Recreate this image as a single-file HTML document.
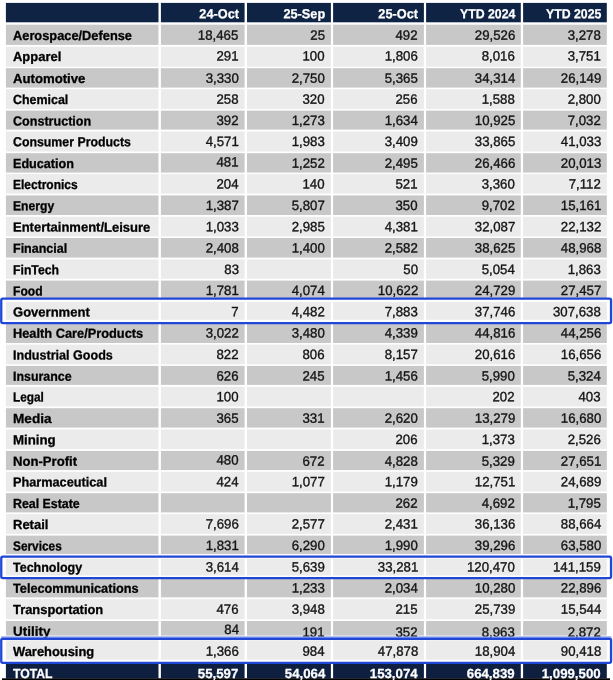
<!DOCTYPE html>
<html><head><meta charset="utf-8"><title>Table</title>
<style>
html,body{margin:0;padding:0;background:#fff;}
html{width:613px;height:680px;overflow:hidden;}
body{width:613px;height:680px;position:relative;overflow:hidden;font-family:"Liberation Sans",sans-serif;font-size:13.2px;color:#141414;}
svg{position:absolute;left:0;top:0;}
.t{position:absolute;white-space:nowrap;display:block;line-height:1;}
.b{font-weight:bold;color:#000;-webkit-text-stroke:0.3px #000;transform-origin:0 50%;}
.n{font-size:13.5px;-webkit-text-stroke:0.35px #141414;transform-origin:100% 50%;}
.hb{font-weight:bold;color:#fff;-webkit-text-stroke:0.25px #fff;transform-origin:100% 50%;}
.w{color:#fff;-webkit-text-stroke:0.25px #fff;}
#clip{position:absolute;left:0;top:0;width:613px;height:680px;overflow:hidden;}
#all{position:absolute;left:0;top:0;width:613px;height:700px;filter:blur(0.45px);}
</style></head><body>
<div id="clip"><div id="all">
<svg width="613" height="690" viewBox="0 0 613 690">
<rect x="5.9" y="2.9" width="600.9" height="19.4" fill="#0f2345"/>
<rect x="5.9" y="24.7" width="600.9" height="20.2" fill="#c8c8c8"/>
<rect x="5.9" y="46.8" width="600.9" height="20" fill="#ebebeb"/>
<rect x="5.9" y="68.2" width="600.9" height="19.4" fill="#c8c8c8"/>
<rect x="5.9" y="89.2" width="600.9" height="19.8" fill="#ebebeb"/>
<rect x="5.9" y="110.6" width="600.9" height="19" fill="#c8c8c8"/>
<rect x="5.9" y="131.5" width="600.9" height="20" fill="#ebebeb"/>
<rect x="5.9" y="153.2" width="600.9" height="19.4" fill="#c8c8c8"/>
<rect x="5.9" y="174.1" width="600.9" height="19.5" fill="#ebebeb"/>
<rect x="5.9" y="195.4" width="600.9" height="19.6" fill="#c8c8c8"/>
<rect x="5.9" y="216.8" width="600.9" height="19.6" fill="#ebebeb"/>
<rect x="5.9" y="238" width="600.9" height="19.6" fill="#c8c8c8"/>
<rect x="5.9" y="259.4" width="600.9" height="19.4" fill="#ebebeb"/>
<rect x="5.9" y="280.6" width="600.9" height="18.4" fill="#c8c8c8"/>
<rect x="5.9" y="302.1" width="600.9" height="17.7" fill="#ebebeb"/>
<rect x="5.9" y="323" width="600.9" height="20" fill="#c8c8c8"/>
<rect x="5.9" y="344.6" width="600.9" height="19.7" fill="#ebebeb"/>
<rect x="5.9" y="365.9" width="600.9" height="19" fill="#c8c8c8"/>
<rect x="5.9" y="386.8" width="600.9" height="19.7" fill="#ebebeb"/>
<rect x="5.9" y="408.2" width="600.9" height="19.4" fill="#c8c8c8"/>
<rect x="5.9" y="429.4" width="600.9" height="19.7" fill="#ebebeb"/>
<rect x="5.9" y="450.9" width="600.9" height="19.2" fill="#c8c8c8"/>
<rect x="5.9" y="471.8" width="600.9" height="19.7" fill="#ebebeb"/>
<rect x="5.9" y="493.2" width="600.9" height="19.2" fill="#c8c8c8"/>
<rect x="5.9" y="514.1" width="600.9" height="19.8" fill="#ebebeb"/>
<rect x="5.9" y="535.6" width="600.9" height="18.5" fill="#c8c8c8"/>
<rect x="5.9" y="558.6" width="600.9" height="16.9" fill="#ebebeb"/>
<rect x="5.9" y="578" width="600.9" height="19.4" fill="#c8c8c8"/>
<rect x="5.9" y="599.2" width="600.9" height="20.1" fill="#ebebeb"/>
<rect x="5.9" y="621" width="600.9" height="14.6" fill="#c8c8c8"/>
<rect x="5.9" y="640.3" width="600.9" height="19.4" fill="#ebebeb"/>
<rect x="5.9" y="663.5" width="600.9" height="15" fill="#0e1f40"/>
<rect x="158.5" y="0" width="2.4" height="678.8" fill="#fff"/>
<rect x="244.6" y="0" width="2.4" height="678.8" fill="#fff"/>
<rect x="330.9" y="0" width="2.2" height="678.8" fill="#fff"/>
<rect x="423.9" y="0" width="2.2" height="678.8" fill="#fff"/>
<rect x="520.8" y="0" width="2.3" height="678.8" fill="#fff"/>
<rect x="2" y="678.3" width="608" height="11.5" fill="#000"/>
</svg>
<div id="txt" style="position:absolute;left:0;top:0;width:613px;height:680px;will-change:transform">
<span class="t hb" style="right:374.3px;top:7px;transform:matrix(0.9670,0.0005,0,1,0,0.18)">24-Oct</span><span class="t hb" style="right:288px;top:7px;transform:matrix(0.9670,0.0005,0,1,0,0.18)">25-Sep</span><span class="t hb" style="right:195px;top:7px;transform:matrix(0.9670,0.0005,0,1,0,0.18)">25-Oct</span><span class="t hb" style="right:98.1px;top:7px;transform:matrix(0.9332,0.0005,0,1,0,0.18)">YTD 2024</span><span class="t hb" style="right:12.1px;top:7px;transform:matrix(0.9332,0.0005,0,1,0,0.18)">YTD 2025</span>
<span class="t b" style="left:13px;top:29px;transform:matrix(0.9719,0.0005,0,1,0,0.03)">Aerospace/Defense</span><span class="t n" style="right:374.3px;top:28px;transform:matrix(0.9800,0.0005,0,1,0,0.77)">18,465</span><span class="t n" style="right:288px;top:28px;transform:matrix(0.9800,0.0005,0,1,0,0.77)">25</span><span class="t n" style="right:195px;top:28px;transform:matrix(0.9800,0.0005,0,1,0,0.77)">492</span><span class="t n" style="right:98.1px;top:28px;transform:matrix(0.9800,0.0005,0,1,0,0.77)">29,526</span><span class="t n" style="right:12.1px;top:28px;transform:matrix(0.9800,0.0005,0,1,0,0.77)">3,278</span>
<span class="t b" style="left:13px;top:49px;transform:matrix(0.9830,0.0005,0,1,0,0.88)">Apparel</span><span class="t n" style="right:374.3px;top:49px;transform:matrix(0.9800,0.0005,0,1,0,0.62)">291</span><span class="t n" style="right:288px;top:49px;transform:matrix(0.9800,0.0005,0,1,0,0.62)">100</span><span class="t n" style="right:195px;top:49px;transform:matrix(0.9800,0.0005,0,1,0,0.62)">1,806</span><span class="t n" style="right:98.1px;top:49px;transform:matrix(0.9800,0.0005,0,1,0,0.62)">8,016</span><span class="t n" style="right:12.1px;top:49px;transform:matrix(0.9800,0.0005,0,1,0,0.62)">3,751</span>
<span class="t b" style="left:13px;top:71px;transform:matrix(0.9986,0.0005,0,1,0,0.98)">Automotive</span><span class="t n" style="right:374.3px;top:71px;transform:matrix(0.9800,0.0005,0,1,0,0.72)">3,330</span><span class="t n" style="right:288px;top:71px;transform:matrix(0.9800,0.0005,0,1,0,0.72)">2,750</span><span class="t n" style="right:195px;top:71px;transform:matrix(0.9800,0.0005,0,1,0,0.72)">5,365</span><span class="t n" style="right:98.1px;top:71px;transform:matrix(0.9800,0.0005,0,1,0,0.72)">34,314</span><span class="t n" style="right:12.1px;top:71px;transform:matrix(0.9800,0.0005,0,1,0,0.72)">26,149</span>
<span class="t b" style="left:13px;top:92px;transform:matrix(0.9421,0.0005,0,1,0,0.98)">Chemical</span><span class="t n" style="right:374.3px;top:92px;transform:matrix(0.9800,0.0005,0,1,0,0.72)">258</span><span class="t n" style="right:288px;top:92px;transform:matrix(0.9800,0.0005,0,1,0,0.72)">320</span><span class="t n" style="right:195px;top:92px;transform:matrix(0.9800,0.0005,0,1,0,0.72)">256</span><span class="t n" style="right:98.1px;top:92px;transform:matrix(0.9800,0.0005,0,1,0,0.72)">1,588</span><span class="t n" style="right:12.1px;top:92px;transform:matrix(0.9800,0.0005,0,1,0,0.72)">2,800</span>
<span class="t b" style="left:13px;top:114px;transform:matrix(0.9525,0.0005,0,1,0,0.38)">Construction</span><span class="t n" style="right:374.3px;top:114px;transform:matrix(0.9800,0.0005,0,1,0,0.12)">392</span><span class="t n" style="right:288px;top:114px;transform:matrix(0.9800,0.0005,0,1,0,0.12)">1,273</span><span class="t n" style="right:195px;top:114px;transform:matrix(0.9800,0.0005,0,1,0,0.12)">1,634</span><span class="t n" style="right:98.1px;top:114px;transform:matrix(0.9800,0.0005,0,1,0,0.12)">10,925</span><span class="t n" style="right:12.1px;top:114px;transform:matrix(0.9800,0.0005,0,1,0,0.12)">7,032</span>
<span class="t b" style="left:13px;top:135px;transform:matrix(0.9352,0.0005,0,1,0,0.28)">Consumer Products</span><span class="t n" style="right:374.3px;top:135px;transform:matrix(0.9800,0.0005,0,1,0,0.02)">4,571</span><span class="t n" style="right:288px;top:135px;transform:matrix(0.9800,0.0005,0,1,0,0.02)">1,983</span><span class="t n" style="right:195px;top:135px;transform:matrix(0.9800,0.0005,0,1,0,0.02)">3,409</span><span class="t n" style="right:98.1px;top:135px;transform:matrix(0.9800,0.0005,0,1,0,0.02)">33,865</span><span class="t n" style="right:12.1px;top:135px;transform:matrix(0.9800,0.0005,0,1,0,0.02)">41,033</span>
<span class="t b" style="left:13px;top:156px;transform:matrix(0.9565,0.0005,0,1,0,0.98)">Education</span><span class="t n" style="right:374.3px;top:155px;transform:matrix(0.9800,0.0005,0,1,0,0.52)">481</span><span class="t n" style="right:288px;top:156px;transform:matrix(0.9800,0.0005,0,1,0,0.72)">1,252</span><span class="t n" style="right:195px;top:156px;transform:matrix(0.9800,0.0005,0,1,0,0.72)">2,495</span><span class="t n" style="right:98.1px;top:156px;transform:matrix(0.9800,0.0005,0,1,0,0.72)">26,466</span><span class="t n" style="right:12.1px;top:156px;transform:matrix(0.9800,0.0005,0,1,0,0.72)">20,013</span>
<span class="t b" style="left:13px;top:177px;transform:matrix(0.9100,0.0005,0,1,0,0.88)">Electronics</span><span class="t n" style="right:374.3px;top:177px;transform:matrix(0.9800,0.0005,0,1,0,0.62)">204</span><span class="t n" style="right:288px;top:177px;transform:matrix(0.9800,0.0005,0,1,0,0.62)">140</span><span class="t n" style="right:195px;top:177px;transform:matrix(0.9800,0.0005,0,1,0,0.62)">521</span><span class="t n" style="right:98.1px;top:177px;transform:matrix(0.9800,0.0005,0,1,0,0.62)">3,360</span><span class="t n" style="right:12.1px;top:177px;transform:matrix(0.9800,0.0005,0,1,0,0.62)">7,112</span>
<span class="t b" style="left:13px;top:199px;transform:matrix(0.9209,0.0005,0,1,0,0.18)">Energy</span><span class="t n" style="right:374.3px;top:198px;transform:matrix(0.9800,0.0005,0,1,0,0.92)">1,387</span><span class="t n" style="right:288px;top:198px;transform:matrix(0.9800,0.0005,0,1,0,0.92)">5,807</span><span class="t n" style="right:195px;top:198px;transform:matrix(0.9800,0.0005,0,1,0,0.92)">350</span><span class="t n" style="right:98.1px;top:198px;transform:matrix(0.9800,0.0005,0,1,0,0.92)">9,702</span><span class="t n" style="right:12.1px;top:198px;transform:matrix(0.9800,0.0005,0,1,0,0.92)">15,161</span>
<span class="t b" style="left:13px;top:220px;transform:matrix(0.9862,0.0005,0,1,0,0.58)">Entertainment/Leisure</span><span class="t n" style="right:374.3px;top:220px;transform:matrix(0.9800,0.0005,0,1,0,0.32)">1,033</span><span class="t n" style="right:288px;top:220px;transform:matrix(0.9800,0.0005,0,1,0,0.32)">2,985</span><span class="t n" style="right:195px;top:220px;transform:matrix(0.9800,0.0005,0,1,0,0.32)">4,381</span><span class="t n" style="right:98.1px;top:220px;transform:matrix(0.9800,0.0005,0,1,0,0.32)">32,087</span><span class="t n" style="right:12.1px;top:220px;transform:matrix(0.9800,0.0005,0,1,0,0.32)">22,132</span>
<span class="t b" style="left:13px;top:241px;transform:matrix(0.9473,0.0005,0,1,0,0.78)">Financial</span><span class="t n" style="right:374.3px;top:241px;transform:matrix(0.9800,0.0005,0,1,0,0.52)">2,408</span><span class="t n" style="right:288px;top:241px;transform:matrix(0.9800,0.0005,0,1,0,0.52)">1,400</span><span class="t n" style="right:195px;top:241px;transform:matrix(0.9800,0.0005,0,1,0,0.52)">2,582</span><span class="t n" style="right:98.1px;top:241px;transform:matrix(0.9800,0.0005,0,1,0,0.52)">38,625</span><span class="t n" style="right:12.1px;top:241px;transform:matrix(0.9800,0.0005,0,1,0,0.52)">48,968</span>
<span class="t b" style="left:13px;top:263px;transform:matrix(0.9292,0.0005,0,1,0,0.18)">FinTech</span><span class="t n" style="right:374.3px;top:262px;transform:matrix(0.9800,0.0005,0,1,0,0.92)">83</span><span class="t n" style="right:195px;top:262px;transform:matrix(0.9800,0.0005,0,1,0,0.92)">50</span><span class="t n" style="right:98.1px;top:262px;transform:matrix(0.9800,0.0005,0,1,0,0.92)">5,054</span><span class="t n" style="right:12.1px;top:262px;transform:matrix(0.9800,0.0005,0,1,0,0.92)">1,863</span>
<span class="t b" style="left:13px;top:284px;transform:matrix(0.9194,0.0005,0,1,0,0.38)">Food</span><span class="t n" style="right:374.3px;top:284px;transform:matrix(0.9800,0.0005,0,1,0,0.12)">1,781</span><span class="t n" style="right:288px;top:284px;transform:matrix(0.9800,0.0005,0,1,0,0.12)">4,074</span><span class="t n" style="right:195px;top:284px;transform:matrix(0.9800,0.0005,0,1,0,0.12)">10,622</span><span class="t n" style="right:98.1px;top:284px;transform:matrix(0.9800,0.0005,0,1,0,0.12)">24,729</span><span class="t n" style="right:12.1px;top:284px;transform:matrix(0.9800,0.0005,0,1,0,0.12)">27,457</span>
<span class="t b" style="left:13px;top:305px;transform:matrix(0.9882,0.0005,0,1,0,0.58)">Government</span><span class="t n" style="right:374.3px;top:305px;transform:matrix(0.9800,0.0005,0,1,0,0.32)">7</span><span class="t n" style="right:288px;top:305px;transform:matrix(0.9800,0.0005,0,1,0,0.32)">4,482</span><span class="t n" style="right:195px;top:305px;transform:matrix(0.9800,0.0005,0,1,0,0.32)">7,883</span><span class="t n" style="right:98.1px;top:305px;transform:matrix(0.9800,0.0005,0,1,0,0.32)">37,746</span><span class="t n" style="right:12.1px;top:305px;transform:matrix(0.9800,0.0005,0,1,0,0.32)">307,638</span>
<span class="t b" style="left:13px;top:326px;transform:matrix(0.9707,0.0005,0,1,0,0.68)">Health Care/Products</span><span class="t n" style="right:374.3px;top:326px;transform:matrix(0.9800,0.0005,0,1,0,0.42)">3,022</span><span class="t n" style="right:288px;top:326px;transform:matrix(0.9800,0.0005,0,1,0,0.42)">3,480</span><span class="t n" style="right:195px;top:326px;transform:matrix(0.9800,0.0005,0,1,0,0.42)">4,339</span><span class="t n" style="right:98.1px;top:326px;transform:matrix(0.9800,0.0005,0,1,0,0.42)">44,816</span><span class="t n" style="right:12.1px;top:326px;transform:matrix(0.9800,0.0005,0,1,0,0.42)">44,256</span>
<span class="t b" style="left:13px;top:348px;transform:matrix(0.9524,0.0005,0,1,0,0.38)">Industrial Goods</span><span class="t n" style="right:374.3px;top:348px;transform:matrix(0.9800,0.0005,0,1,0,0.12)">822</span><span class="t n" style="right:288px;top:348px;transform:matrix(0.9800,0.0005,0,1,0,0.12)">806</span><span class="t n" style="right:195px;top:348px;transform:matrix(0.9800,0.0005,0,1,0,0.12)">8,157</span><span class="t n" style="right:98.1px;top:348px;transform:matrix(0.9800,0.0005,0,1,0,0.12)">20,616</span><span class="t n" style="right:12.1px;top:348px;transform:matrix(0.9800,0.0005,0,1,0,0.12)">16,656</span>
<span class="t b" style="left:13px;top:369px;transform:matrix(0.9393,0.0005,0,1,0,0.68)">Insurance</span><span class="t n" style="right:374.3px;top:369px;transform:matrix(0.9800,0.0005,0,1,0,0.42)">626</span><span class="t n" style="right:288px;top:369px;transform:matrix(0.9800,0.0005,0,1,0,0.42)">245</span><span class="t n" style="right:195px;top:369px;transform:matrix(0.9800,0.0005,0,1,0,0.42)">1,456</span><span class="t n" style="right:98.1px;top:369px;transform:matrix(0.9800,0.0005,0,1,0,0.42)">5,990</span><span class="t n" style="right:12.1px;top:369px;transform:matrix(0.9800,0.0005,0,1,0,0.42)">5,324</span>
<span class="t b" style="left:13px;top:390px;transform:matrix(0.8970,0.0005,0,1,0,0.58)">Legal</span><span class="t n" style="right:374.3px;top:390px;transform:matrix(0.9800,0.0005,0,1,0,0.32)">100</span><span class="t n" style="right:98.1px;top:390px;transform:matrix(0.9800,0.0005,0,1,0,0.32)">202</span><span class="t n" style="right:12.1px;top:390px;transform:matrix(0.9800,0.0005,0,1,0,0.32)">403</span>
<span class="t b" style="left:13px;top:411px;transform:matrix(1.0306,0.0005,0,1,0,0.98)">Media</span><span class="t n" style="right:374.3px;top:411px;transform:matrix(0.9800,0.0005,0,1,0,0.72)">365</span><span class="t n" style="right:288px;top:411px;transform:matrix(0.9800,0.0005,0,1,0,0.72)">331</span><span class="t n" style="right:195px;top:411px;transform:matrix(0.9800,0.0005,0,1,0,0.72)">2,620</span><span class="t n" style="right:98.1px;top:411px;transform:matrix(0.9800,0.0005,0,1,0,0.72)">13,279</span><span class="t n" style="right:12.1px;top:411px;transform:matrix(0.9800,0.0005,0,1,0,0.72)">16,680</span>
<span class="t b" style="left:13px;top:433px;transform:matrix(1.0049,0.0005,0,1,0,0.18)">Mining</span><span class="t n" style="right:195px;top:432px;transform:matrix(0.9800,0.0005,0,1,0,0.92)">206</span><span class="t n" style="right:98.1px;top:432px;transform:matrix(0.9800,0.0005,0,1,0,0.92)">1,373</span><span class="t n" style="right:12.1px;top:432px;transform:matrix(0.9800,0.0005,0,1,0,0.92)">2,526</span>
<span class="t b" style="left:13px;top:454px;transform:matrix(0.9937,0.0005,0,1,0,0.68)">Non-Profit</span><span class="t n" style="right:374.3px;top:453px;transform:matrix(0.9800,0.0005,0,1,0,0.42)">480</span><span class="t n" style="right:288px;top:454px;transform:matrix(0.9800,0.0005,0,1,0,0.82)">672</span><span class="t n" style="right:195px;top:454px;transform:matrix(0.9800,0.0005,0,1,0,0.82)">4,828</span><span class="t n" style="right:98.1px;top:454px;transform:matrix(0.9800,0.0005,0,1,0,0.82)">5,329</span><span class="t n" style="right:12.1px;top:454px;transform:matrix(0.9800,0.0005,0,1,0,0.82)">27,651</span>
<span class="t b" style="left:13px;top:475px;transform:matrix(0.9635,0.0005,0,1,0,0.58)">Pharmaceutical</span><span class="t n" style="right:374.3px;top:475px;transform:matrix(0.9800,0.0005,0,1,0,0.32)">424</span><span class="t n" style="right:288px;top:475px;transform:matrix(0.9800,0.0005,0,1,0,0.32)">1,077</span><span class="t n" style="right:195px;top:475px;transform:matrix(0.9800,0.0005,0,1,0,0.32)">1,179</span><span class="t n" style="right:98.1px;top:475px;transform:matrix(0.9800,0.0005,0,1,0,0.32)">12,751</span><span class="t n" style="right:12.1px;top:475px;transform:matrix(0.9800,0.0005,0,1,0,0.32)">24,689</span>
<span class="t b" style="left:13px;top:496px;transform:matrix(0.9371,0.0005,0,1,0,0.98)">Real Estate</span><span class="t n" style="right:195px;top:496px;transform:matrix(0.9800,0.0005,0,1,0,0.72)">262</span><span class="t n" style="right:98.1px;top:496px;transform:matrix(0.9800,0.0005,0,1,0,0.72)">4,692</span><span class="t n" style="right:12.1px;top:496px;transform:matrix(0.9800,0.0005,0,1,0,0.72)">1,795</span>
<span class="t b" style="left:13px;top:517px;transform:matrix(0.9853,0.0005,0,1,0,0.88)">Retail</span><span class="t n" style="right:374.3px;top:517px;transform:matrix(0.9800,0.0005,0,1,0,0.62)">7,696</span><span class="t n" style="right:288px;top:517px;transform:matrix(0.9800,0.0005,0,1,0,0.62)">2,577</span><span class="t n" style="right:195px;top:517px;transform:matrix(0.9800,0.0005,0,1,0,0.62)">2,431</span><span class="t n" style="right:98.1px;top:517px;transform:matrix(0.9800,0.0005,0,1,0,0.62)">36,136</span><span class="t n" style="right:12.1px;top:517px;transform:matrix(0.9800,0.0005,0,1,0,0.62)">88,664</span>
<span class="t b" style="left:13px;top:539px;transform:matrix(0.8981,0.0005,0,1,0,0.38)">Services</span><span class="t n" style="right:374.3px;top:539px;transform:matrix(0.9800,0.0005,0,1,0,0.12)">1,831</span><span class="t n" style="right:288px;top:539px;transform:matrix(0.9800,0.0005,0,1,0,0.12)">6,290</span><span class="t n" style="right:195px;top:539px;transform:matrix(0.9800,0.0005,0,1,0,0.12)">1,990</span><span class="t n" style="right:98.1px;top:539px;transform:matrix(0.9800,0.0005,0,1,0,0.12)">39,296</span><span class="t n" style="right:12.1px;top:539px;transform:matrix(0.9800,0.0005,0,1,0,0.12)">63,580</span>
<span class="t b" style="left:13px;top:560px;transform:matrix(0.9466,0.0005,0,1,0,0.68)">Technology</span><span class="t n" style="right:374.3px;top:560px;transform:matrix(0.9800,0.0005,0,1,0,0.42)">3,614</span><span class="t n" style="right:288px;top:560px;transform:matrix(0.9800,0.0005,0,1,0,0.42)">5,639</span><span class="t n" style="right:195px;top:560px;transform:matrix(0.9800,0.0005,0,1,0,0.42)">33,281</span><span class="t n" style="right:98.1px;top:560px;transform:matrix(0.9800,0.0005,0,1,0,0.42)">120,470</span><span class="t n" style="right:12.1px;top:560px;transform:matrix(0.9800,0.0005,0,1,0,0.42)">141,159</span>
<span class="t b" style="left:13px;top:581px;transform:matrix(0.9646,0.0005,0,1,0,0.78)">Telecommunications</span><span class="t n" style="right:288px;top:581px;transform:matrix(0.9800,0.0005,0,1,0,0.52)">1,233</span><span class="t n" style="right:195px;top:581px;transform:matrix(0.9800,0.0005,0,1,0,0.52)">2,034</span><span class="t n" style="right:98.1px;top:581px;transform:matrix(0.9800,0.0005,0,1,0,0.52)">10,280</span><span class="t n" style="right:12.1px;top:581px;transform:matrix(0.9800,0.0005,0,1,0,0.52)">22,896</span>
<span class="t b" style="left:13px;top:602px;transform:matrix(0.9772,0.0005,0,1,0,0.98)">Transportation</span><span class="t n" style="right:374.3px;top:602px;transform:matrix(0.9800,0.0005,0,1,0,0.72)">476</span><span class="t n" style="right:288px;top:602px;transform:matrix(0.9800,0.0005,0,1,0,0.72)">3,948</span><span class="t n" style="right:195px;top:602px;transform:matrix(0.9800,0.0005,0,1,0,0.72)">215</span><span class="t n" style="right:98.1px;top:602px;transform:matrix(0.9800,0.0005,0,1,0,0.72)">25,739</span><span class="t n" style="right:12.1px;top:602px;transform:matrix(0.9800,0.0005,0,1,0,0.72)">15,544</span>
<span class="t b" style="left:13px;top:624px;transform:matrix(1.0200,0.0005,0,1,0,0.78)">Utility</span><span class="t n" style="right:374.3px;top:623px;transform:matrix(0.9800,0.0005,0,1,0,0.12)">84</span><span class="t n" style="right:288px;top:625px;transform:matrix(0.9800,0.0005,0,1,0,0.82)">191</span><span class="t n" style="right:195px;top:625px;transform:matrix(0.9800,0.0005,0,1,0,0.82)">352</span><span class="t n" style="right:98.1px;top:625px;transform:matrix(0.9800,0.0005,0,1,0,0.82)">8,963</span><span class="t n" style="right:12.1px;top:625px;transform:matrix(0.9800,0.0005,0,1,0,0.82)">2,872</span>
<span class="t b" style="left:13px;top:644px;transform:matrix(0.9780,0.0005,0,1,0,0.98)">Warehousing</span><span class="t n" style="right:374.3px;top:644px;transform:matrix(0.9800,0.0005,0,1,0,0.72)">1,366</span><span class="t n" style="right:288px;top:644px;transform:matrix(0.9800,0.0005,0,1,0,0.72)">984</span><span class="t n" style="right:195px;top:644px;transform:matrix(0.9800,0.0005,0,1,0,0.72)">47,878</span><span class="t n" style="right:98.1px;top:644px;transform:matrix(0.9800,0.0005,0,1,0,0.72)">18,904</span><span class="t n" style="right:12.1px;top:644px;transform:matrix(0.9800,0.0005,0,1,0,0.72)">90,418</span>
<span class="t b w" style="left:13px;top:667px;transform:matrix(0.9262,0.0005,0,1,0,0.08)">TOTAL</span><span class="t hb" style="right:374.3px;top:667px;transform:matrix(1.0050,0.0005,0,1,0,0.08)">55,597</span><span class="t hb" style="right:288px;top:667px;transform:matrix(1.0050,0.0005,0,1,0,0.08)">54,064</span><span class="t hb" style="right:195px;top:667px;transform:matrix(1.0050,0.0005,0,1,0,0.08)">153,074</span><span class="t hb" style="right:98.1px;top:667px;transform:matrix(1.0050,0.0005,0,1,0,0.08)">664,839</span><span class="t hb" style="right:12.1px;top:667px;transform:matrix(1.0050,0.0005,0,1,0,0.08)">1,099,500</span>
</div>
<svg width="613" height="680" viewBox="0 0 613 680">
<rect x="1" y="636" width="610.5" height="1.9" fill="#7f9cf0" fill-opacity="0.6"/>
<rect x="1.25" y="298.55" width="609.8" height="24.5" rx="1.6" fill="none" stroke="#2046d8" stroke-width="2.3"/>
<rect x="1.25" y="556.55" width="609.8" height="21.5" rx="1.6" fill="none" stroke="#2046d8" stroke-width="2.3"/>
<rect x="1.25" y="638.75" width="609.8" height="24.1" rx="1.6" fill="none" stroke="#2046d8" stroke-width="2.3"/>
</svg>
</div></div>
</body></html>
